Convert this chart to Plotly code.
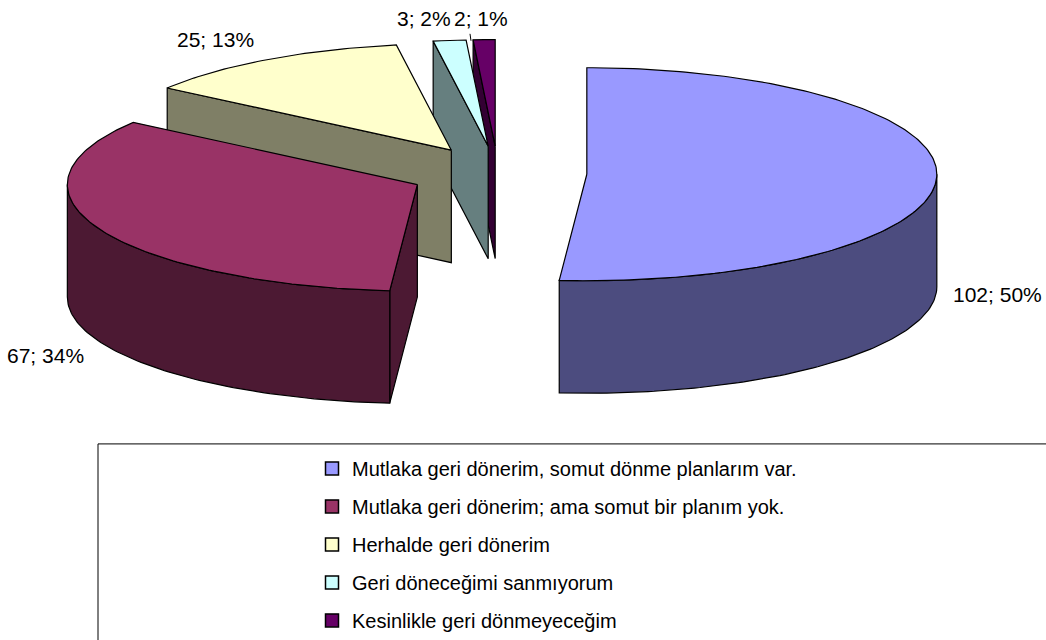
import numpy as np
import plotly.graph_objects as go

# answers and counts
labels = [
    "Mutlaka geri dönerim, somut dönme planlarım var.",
    "Mutlaka geri dönerim; ama somut bir planım yok.",
    "Herhalde geri dönerim",
    "Geri döneceğimi sanmıyorum",
    "Kesinlikle geri dönmeyeceğim",
]
values = [102, 67, 25, 3, 2]
percents = [50, 34, 13, 2, 1]
top_colors = ["#9999FF", "#993366", "#FFFFCC", "#CCFFFF", "#660066"]
side_colors = ["#4C4C7F", "#4C1933", "#7F7F66", "#667F7F", "#330033"]

# page size and pie geometry (pixels)
W, H = 1046, 640
PX = 350            # horizontal radius of the pie in pixels
CX, CY = 498, 174   # centre of the pie
TILT = 107 / PX     # vertical squash of the top ellipse
DEPTH = 113 / PX    # thickness of the pie
EXPLODE = 0.254     # how far every slice is pulled out

# label centres in pixels (Excel put them outside each slice)
label_px = [(997, 296), (45, 357), (215, 40), (424, 19), (481, 19)]
FONT = "Liberation Sans"


def arc(ox, oy, a, b, dz=0.0):
    n = max(int(abs(b - a) * 60), 2)
    t = np.linspace(a, b, n)
    return list(ox + np.sin(t)), list(oy + TILT * np.cos(t) - dz)


def poly(fig, xs, ys, color):
    fig.add_trace(go.Scatter(
        x=xs + [xs[0]], y=ys + [ys[0]], mode="lines", fill="toself",
        fillcolor=color, line=dict(color="black", width=1.2),
        hoverinfo="skip", showlegend=False,
    ))


total = sum(values)
bounds = np.concatenate([[0], np.cumsum(values)]) / total * 2 * np.pi
slices = []
for i in range(len(values)):
    s, e = bounds[i], bounds[i + 1]
    m = (s + e) / 2
    ox, oy = EXPLODE * np.sin(m), EXPLODE * TILT * np.cos(m)
    slices.append((i, s, e, m, ox, oy))

fig = go.Figure()

# back slices first
for i, s, e, m, ox, oy in sorted(slices, key=lambda k: -np.cos(k[3])):
    side = side_colors[i]
    # cut faces
    for ang, visible in ((s, np.sin(s) < -1e-6), (e, np.sin(e) > 1e-6)):
        if visible:
            rx, ry = ox + np.sin(ang), oy + TILT * np.cos(ang)
            poly(fig, [ox, rx, rx, ox], [oy, ry, ry - DEPTH, oy - DEPTH], side)
    # front part of the curved side
    a, b = max(s, np.pi / 2), min(e, 3 * np.pi / 2)
    if b > a:
        tx, ty = arc(ox, oy, a, b)
        bx, by = arc(ox, oy, b, a, DEPTH)
        poly(fig, tx + bx, ty + by, side)
    # top face
    tx, ty = arc(ox, oy, s, e)
    poly(fig, [ox] + tx, [oy] + ty, top_colors[i])

# legend entries
for i, name in enumerate(labels):
    fig.add_trace(go.Scatter(
        x=[None], y=[None], mode="markers", name=name, legendgroup=str(i),
        marker=dict(symbol="square", size=13, color=top_colors[i],
                    line=dict(color="black", width=1.5)),
    ))

for (lx, ly), v, p in zip(label_px, values, percents):
    fig.add_annotation(
        x=(lx - CX) / PX, y=(CY - ly) / PX, text=f"{v}; {p}%",
        showarrow=False, font=dict(family=FONT, size=21, color="black"),
    )

# legend frame (runs off the right and bottom edge like the original)
fig.add_shape(type="rect", xref="paper", yref="paper",
              x0=98 / W, x1=1.02, y0=-0.05, y1=1 - 446 / H,
              line=dict(color="black", width=1))
# tiny leader line of the smallest slice
fig.add_shape(type="line", xref="paper", yref="paper",
              x0=470 / W, x1=471 / W, y0=1 - 34 / H, y1=1 - 41 / H,
              line=dict(color="black", width=1))

fig.update_layout(
    width=W, height=H,
    margin=dict(l=0, r=0, t=0, b=0),
    paper_bgcolor="white", plot_bgcolor="white",
    xaxis=dict(range=[-CX / PX, (W - CX) / PX], visible=False, fixedrange=True),
    yaxis=dict(range=[(CY - H) / PX, CY / PX], visible=False, fixedrange=True),
    showlegend=True,
    legend=dict(
        x=312 / W, y=1 - 451 / H, xanchor="left", yanchor="top",
        font=dict(family=FONT, size=20, color="black"),
        bgcolor="rgba(0,0,0,0)", tracegroupgap=9, itemwidth=30,
    ),
)

# the page margin would push the chart off the 1046x640 window
fig.write_html(
    "out.html",
    config={"displayModeBar": False},
    post_script="document.body.style.margin='0';document.body.style.overflow='hidden';",
)
